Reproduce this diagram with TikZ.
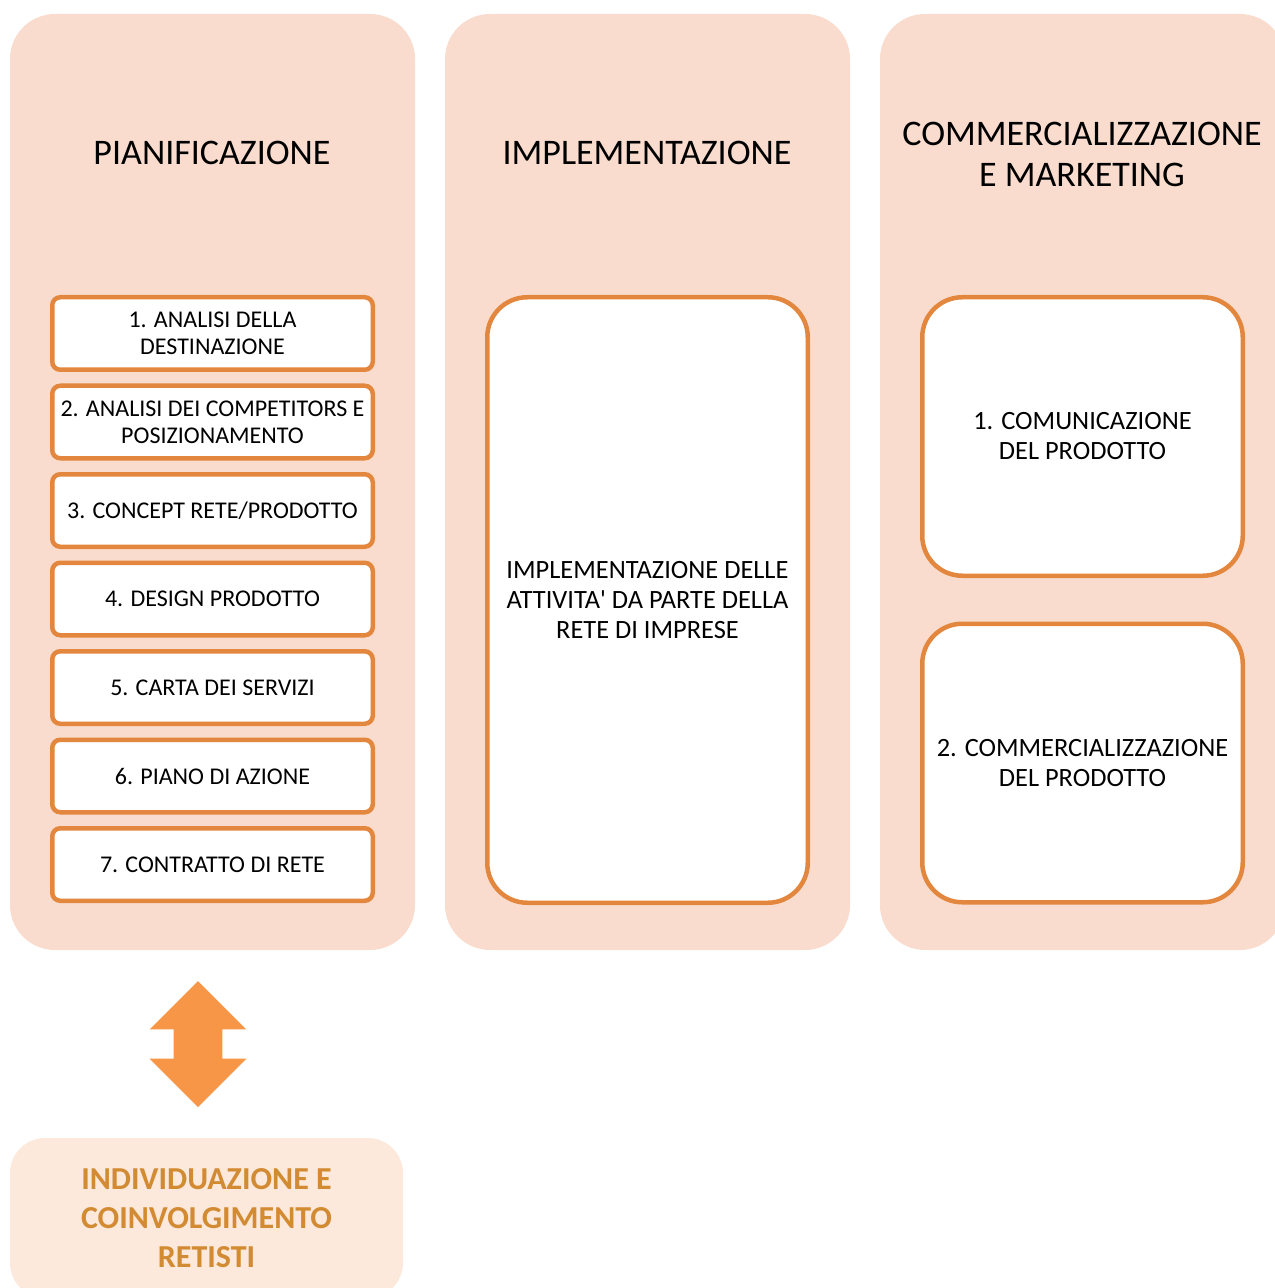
\documentclass[tikz,border=0pt]{standalone}
\usepackage{fontspec}
\setmainfont{Carlito}
\usetikzlibrary{shapes}
\usetikzlibrary{shapes.arrows}
\usetikzlibrary{positioning}

\definecolor{colfill}{HTML}{F9DCCD}
\definecolor{boxedge}{HTML}{E3873E}
\definecolor{arrowfill}{HTML}{F79646}
\definecolor{retefill}{HTML}{FCE9DB}
\definecolor{retetext}{HTML}{D38B33}

\tikzset{
  phase/.style={rectangle, rounded corners=22.5pt, fill=colfill, draw=none,
    minimum width=202.5pt, minimum height=468pt, inner sep=0pt},
  phasetitle/.style={align=center, font=\fontsize{18}{20.5}\selectfont},
  stepbox/.style={rectangle, rounded corners=4pt, fill=white, draw=boxedge,
    line width=2.25pt, minimum width=160.25pt, minimum height=36.25pt,
    inner sep=0pt, align=center, font=\fontsize{12}{13.5}\selectfont},
  bigbox/.style={rectangle, rounded corners=20pt, fill=white, draw=boxedge,
    line width=2.25pt, minimum width=160.25pt, inner sep=0pt, align=center,
    font=\fontsize{13.2}{15}\selectfont},
  updown/.style={double arrow, shape border rotate=90, fill=arrowfill,
    draw=none, inner sep=12pt, double arrow head extend=12pt,
    minimum height=63pt, minimum width=48pt},
  retebox/.style={rectangle, rounded corners=17.5pt, fill=retefill, draw=none,
    minimum width=196.5pt, minimum height=80pt, inner sep=0pt, align=center,
    text=retetext, font=\fontsize{16}{19.5}\selectfont\bfseries}
}

\begin{document}
\begin{tikzpicture}[x=0.5pt, y=-0.5pt]
  \useasboundingbox (0,0) rectangle (1274,1288);

  % the three phases
  \node[phase] (pian) at (212.5,482) {};
  \node[phase] (impl) at (647.5,482) {};
  \node[phase] (comm) at (1082.5,482) {};

  \node[phasetitle] (piantitle) at (212,153) {PIANIFICAZIONE};
  \node[phasetitle] (impltitle) at (647,153) {IMPLEMENTAZIONE};
  \node[phasetitle] (commtitle) at (1082,154) {COMMERCIALIZZAZIONE\\E MARKETING};

  % planning steps
  \foreach \i/\t in {1/{1. ANALISI DELLA\\DESTINAZIONE},
                     2/{2. ANALISI DEI COMPETITORS E\\POSIZIONAMENTO},
                     3/{3. CONCEPT RETE/PRODOTTO},
                     4/{4. DESIGN PRODOTTO},
                     5/{5. CARTA DEI SERVIZI},
                     6/{6. PIANO DI AZIONE},
                     7/{7. CONTRATTO DI RETE}}
    \node[stepbox] (step\i) at (212.5,{333.5+88.5*(\i-1)}) {\t};

  \node[bigbox, minimum height=302.75pt] (attivita) at (647.5,600)
    {IMPLEMENTAZIONE DELLE\\ATTIVITA\textquotesingle{} DA PARTE DELLA\\RETE DI IMPRESE};

  \node[bigbox, minimum height=139.25pt] (comunica) at (1082.5,436.5)
    {1. COMUNICAZIONE\\DEL PRODOTTO};
  \node[bigbox, minimum height=139.25pt] (vendita) at (1082.5,763)
    {2. COMMERCIALIZZAZIONE\\DEL PRODOTTO};

  % network partners
  \node[updown] (link) at (198,1044) {};
  \node[retebox] (retisti) at (206.5,1218)
    {INDIVIDUAZIONE E\\COINVOLGIMENTO\\RETISTI};
\end{tikzpicture}
\end{document}
